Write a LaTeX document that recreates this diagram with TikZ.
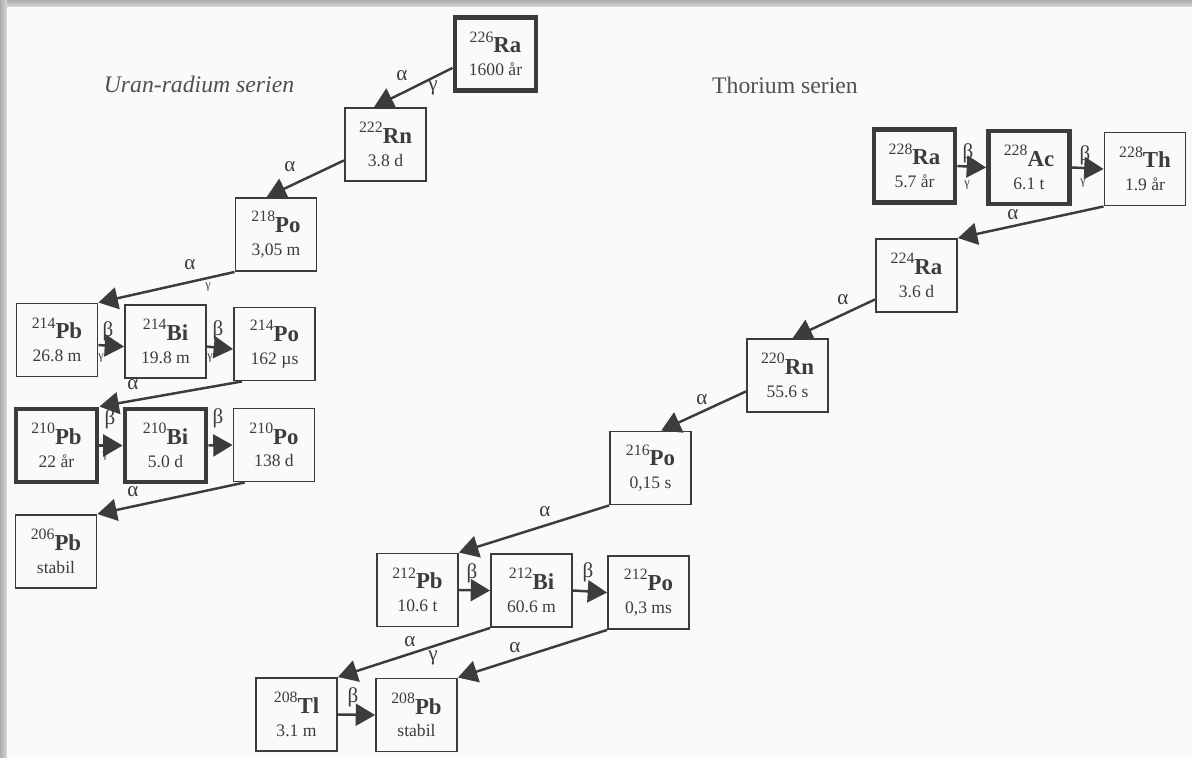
\documentclass[tikz,border=0pt]{standalone}
\usepackage{fontspec}
\setmainfont{Liberation Serif}
\usetikzlibrary{arrows.meta}
\definecolor{ink}{HTML}{3C3C3C}
\definecolor{paper}{HTML}{FAFAFA}
\newcommand{\nuc}[3]{\raisebox{6pt}{\fontsize{9}{9}\selectfont#1}{\fontsize{13}{13}\selectfont\bfseries#2}\\#3}
\tikzset{
  box/.style={draw=ink, line width=1.1pt, fill=paper, minimum width=1.62cm, minimum height=1.46cm,
    inner sep=0pt, align=center, text=ink, font=\fontsize{10}{13}\selectfont},
  thickbox/.style={box, line width=2.8pt},
  decay/.style={draw=ink, line width=1.4pt, -{Triangle[length=11pt,width=12.5pt]}},
  lbl/.style={text=ink, inner sep=0pt, font=\fontsize{12}{12}\selectfont},
  small/.style={lbl, font=\fontsize{7}{7}\selectfont},
  title/.style={text=ink!90, inner sep=0pt, font=\fontsize{13.5}{14}\selectfont}
}
\begin{document}
\begin{tikzpicture}[x=0.02cm,y=-0.02cm]
\useasboundingbox (0,0) rectangle (1192,757);
% frame
\shade[top color=gray!65, bottom color=gray!30] (0,0) rectangle (1192,7);
\shade[left color=gray!65, right color=gray!30] (0,0) rectangle (7,757);
\fill[paper] (7,7) rectangle (1192,757);
\node[title, font=\fontsize{13.5}{14}\selectfont\itshape] (uran) at (199,84) {Uran-radium serien};
\node[title] (thor) at (785,85) {Thorium serien};

% uran-radium serien
\node[thickbox] (Ra226) at (495.5,54) {\nuc{226}{Ra}{1600 år}};
\node[box] (Rn222) at (385.5,144.5) {\nuc{222}{Rn}{3.8 d}};
\node[box] (Po218) at (276,234.5) {\nuc{218}{Po}{3,05 m}};
\node[box] (Pb214) at (57,340) {\nuc{214}{Pb}{26.8 m}};
\node[box] (Bi214) at (165.5,341.5) {\nuc{214}{Bi}{19.8 m}};
\node[box] (Po214) at (274.5,344) {\nuc{214}{Po}{162 µs}};
\node[thickbox] (Pb210) at (56.5,445.5) {\nuc{210}{Pb}{22 år}};
\node[thickbox] (Bi210) at (165.5,445.5) {\nuc{210}{Bi}{5.0 d}};
\node[box] (Po210) at (274,445) {\nuc{210}{Po}{138 d}};
\node[box] (Pb206) at (56,551.5) {\nuc{206}{Pb}{stabil}};

\draw[decay] (Ra226.198) -- (Rn222.107);
\draw[decay] (Rn222.201) -- (Po218.104);
\draw[decay] (Po218.south west) -- (Pb214.north east);
\draw[decay] (Pb214.-7) -- (Bi214.187);
\draw[decay] (Bi214.-7) -- (Po214.187);
\draw[decay] (Po214.229) -- (Pb210.north east);
\draw[decay] (Pb210.east) -- (Bi210.west);
\draw[decay] (Bi210.east) -- (Po210.west);
\draw[decay] (Po210.232) -- (Pb206.north east);

\node[lbl] (a1) at (402,76) {α};
\node[lbl] (g1) at (433,88) {γ};
\node[lbl] (a2) at (290,167) {α};
\node[lbl] (a3) at (190,265) {α};
\node[small] (g3) at (208,287) {γ};
\node[lbl] (b4) at (108,331) {β};
\node[small] (g4) at (101,358) {γ};
\node[lbl] (b5) at (218,330) {β};
\node[small] (g5) at (210,358) {γ};
\node[lbl] (a6) at (133,385) {α};
\node[lbl] (b7) at (110,419) {β};
\node[small] (g7) at (105,456) {γ};
\node[lbl] (b8) at (218,418) {β};
\node[lbl] (a9) at (133,492) {α};

% thorium serien
\node[thickbox] (Ra228) at (914.5,166) {\nuc{228}{Ra}{5.7 år}};
\node[thickbox] (Ac228) at (1029,167.5) {\nuc{228}{Ac}{6.1 t}};
\node[box] (Th228) at (1145,169) {\nuc{228}{Th}{1.9 år}};
\node[box] (Ra224) at (916.5,275.5) {\nuc{224}{Ra}{3.6 d}};
\node[box] (Rn220) at (787.5,375.5) {\nuc{220}{Rn}{55.6 s}};
\node[box] (Po216) at (650.5,468) {\nuc{216}{Po}{0,15 s}};
\node[box] (Pb212) at (417.5,590) {\nuc{212}{Pb}{10.6 t}};
\node[box] (Bi212) at (531.5,590.5) {\nuc{212}{Bi}{60.6 m}};
\node[box] (Po212) at (648.5,592.5) {\nuc{212}{Po}{0,3 ms}};
\node[box] (Tl208) at (296.5,714.5) {\nuc{208}{Tl}{3.1 m}};
\node[box] (Pb208) at (416.5,715) {\nuc{208}{Pb}{stabil}};

\draw[decay] (Ra228.east) -- (Ac228.west);
\draw[decay] (Ac228.east) -- (Th228.west);
\draw[decay] (Th228.south west) -- (Ra224.north east);
\draw[decay] (Ra224.210) -- (Rn220.82);
\draw[decay] (Rn220.201) -- (Po216.74);
\draw[decay] (Po216.south west) -- (Pb212.north east);
\draw[decay] (Pb212.east) -- (Bi212.west);
\draw[decay] (Bi212.east) -- (Po212.west);
\draw[decay] (Bi212.south west) -- (Tl208.north east);
\draw[decay] (Po212.south west) -- (Pb208.north east);
\draw[decay] (Tl208.east) -- (Pb208.west);

\node[lbl] (b11) at (968,153) {β};
\node[small] (g11) at (967,185) {γ};
\node[lbl] (b12) at (1085,155) {β};
\node[small] (g12) at (1083,183) {γ};
\node[lbl] (a13) at (1013,215) {α};
\node[lbl] (a14) at (843,300) {α};
\node[lbl] (a15) at (702,400) {α};
\node[lbl] (a16) at (545,512) {α};
\node[lbl] (b17) at (472,573) {β};
\node[lbl] (b18) at (588,572) {β};
\node[lbl] (a19) at (410,642) {α};
\node[lbl] (g19) at (433,658) {γ};
\node[lbl] (a20) at (515,648) {α};
\node[lbl] (b21) at (353,697) {β};
\end{tikzpicture}
\end{document}
